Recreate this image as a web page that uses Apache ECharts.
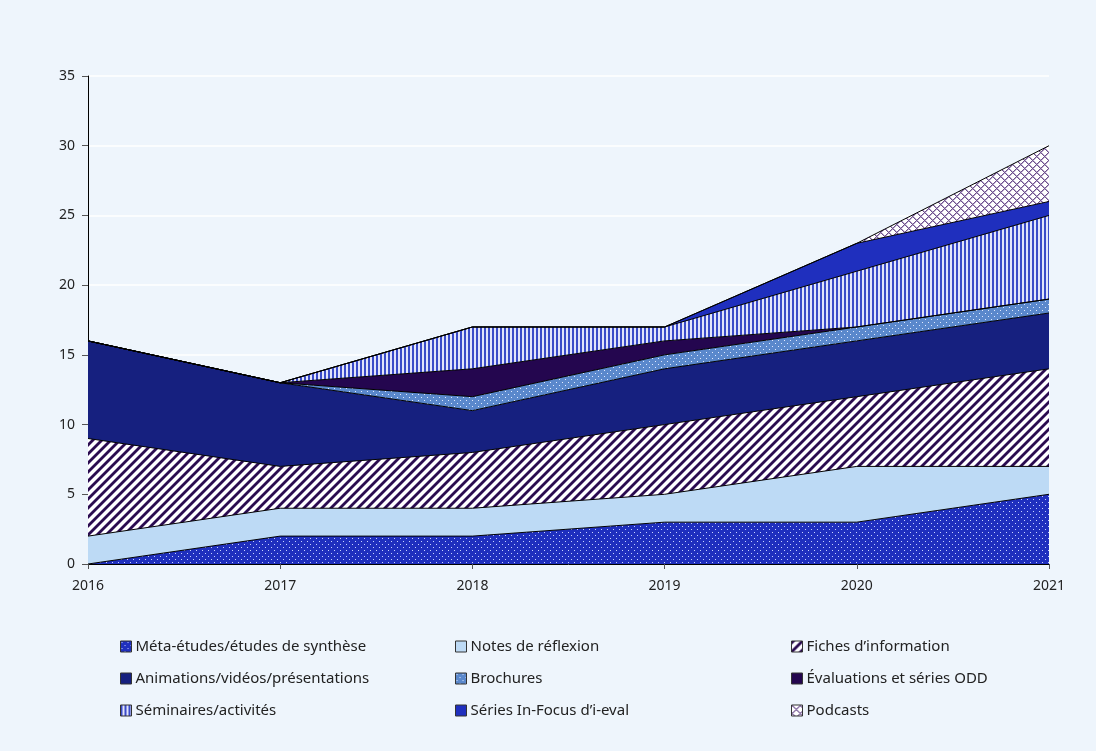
<!DOCTYPE html>
<html>
<head>
<meta charset="utf-8">
<script src="https://cdn.jsdelivr.net/npm/echarts@6/dist/echarts.min.js"></script>
<style>
  html, body { margin: 0; padding: 0; background: #EEF5FC; }
  #chart { width: 1096px; height: 751px; }
</style>
</head>
<body>
<div id="chart"></div>
<script>
// Publication output by product type, 2016–2021 (stacked counts)
const years = ['2016', '2017', '2018', '2019', '2020', '2021'];
const metaEtudes   = [0, 2, 2, 3, 3, 5];
const notes        = [2, 2, 2, 2, 4, 2];
const fiches       = [7, 3, 4, 5, 5, 7];
const animations   = [7, 6, 3, 4, 4, 4];
const brochures    = [0, 0, 1, 1, 1, 1];
const evaluations  = [0, 0, 2, 1, 0, 0];
const seminaires   = [0, 0, 3, 1, 4, 6];
const inFocus      = [0, 0, 0, 0, 2, 1];
const podcasts     = [0, 0, 0, 0, 0, 4];
const seriesNames = [
  'Méta-études/études de synthèse', 'Notes de réflexion', 'Fiches d’information',
  'Animations/vidéos/présentations', 'Brochures', 'Évaluations et séries ODD',
  'Séminaires/activités', 'Séries In-Focus d’i-eval', 'Podcasts'
];
const yTicks = [0, 5, 10, 15, 20, 25, 30, 35];

// Tile builders for patterned fills
function tile(w, h, painter) {
  const c = document.createElement('canvas');
  c.width = w; c.height = h;
  const ctx = c.getContext('2d');
  const img = ctx.createImageData(w, h);
  for (let y = 0; y < h; y++) {
    for (let x = 0; x < w; x++) {
      const col = painter(x, y);
      const i = (y * w + x) * 4;
      img.data[i] = col[0]; img.data[i + 1] = col[1]; img.data[i + 2] = col[2]; img.data[i + 3] = 255;
    }
  }
  ctx.putImageData(img, 0, 0);
  return { image: c, repeat: 'repeat' };
}
const WHITE = [255, 255, 255];
const dots = (bg, dot) => tile(6, 6, (x, y) => ((x === 1 && y === 1) || (x === 4 && y === 4)) ? dot : bg);
const diag = (fg) => tile(9, 9, (x, y) => {
  const m = (x + y) % 9;
  if (m < 3) return fg;
  if (m === 3 || m === 8) return [150, 130, 175];
  return WHITE;
});
const vstripe = (fg) => tile(4, 4, (x) => (x < 2) ? fg : [225, 228, 250]);
const cross = (fg) => tile(8, 8, (x, y) => {
  const a = (x + y) % 8, b = (x - y + 80) % 8;
  if (a === 0 || b === 0) return fg;
  if (a === 1 || b === 1) return [185, 170, 205];
  return WHITE;
});

const fills = [
  dots([31, 47, 190], [200, 210, 255]),
  '#BDDAF5',
  diag([42, 12, 78]),
  '#16207F',
  dots([90, 136, 204], [225, 235, 255]),
  '#24064F',
  vstripe([58, 75, 200]),
  '#1F2FBE',
  cross([110, 80, 140])
];
const dataSets = [metaEtudes, notes, fiches, animations, brochures, evaluations, seminaires, inFocus, podcasts];

const series = seriesNames.map((name, i) => ({
  name: name,
  type: 'line',
  stack: 'total',
  data: dataSets[i],
  symbol: 'none',
  color: fills[i],
  itemStyle: { color: fills[i], borderColor: '#222', borderWidth: 1 },
  lineStyle: { color: '#000', width: 1 },
  areaStyle: { color: fills[i], opacity: 1 },
  z: 2
}));

const legendCols = [[0, 3, 6], [1, 4, 7], [2, 5, 8]];
const legendX = [115, 450, 786];
const legends = legendCols.map((idx, c) => ({
  orient: 'vertical',
  left: legendX[c],
  top: 631,
  itemGap: 11,
  itemWidth: 11,
  itemHeight: 11,
  icon: 'rect',
  data: idx.map(k => seriesNames[k]),
  itemStyle: { borderColor: '#333', borderWidth: 1 },
  textStyle: { fontFamily: 'Noto Sans', fontSize: 15, lineHeight: 21, color: '#222', padding: [0, 0, 0, -1] },
  selectedMode: false
}));

const chart = echarts.init(document.getElementById('chart'), null, { renderer: 'canvas' });
chart.setOption({
  backgroundColor: '#EEF5FC',
  animation: false,
  grid: { left: 88, right: 47, top: 76, bottom: 187, containLabel: false },
  legend: legends,
  xAxis: {
    type: 'category',
    data: years,
    boundaryGap: false,
    axisLine: { lineStyle: { color: '#000', width: 1 } },
    axisTick: { show: true, alignWithLabel: true, length: 5, lineStyle: { color: '#555' } },
    axisLabel: { fontFamily: 'Noto Sans', fontSize: 14, color: '#222', margin: 15 },
    splitLine: { show: false }
  },
  yAxis: {
    type: 'value',
    min: yTicks[0],
    max: yTicks[yTicks.length - 1],
    interval: 5,
    axisLine: { show: true, lineStyle: { color: '#000', width: 1 } },
    axisTick: { show: true, length: 6, lineStyle: { color: '#555' } },
    axisLabel: { fontFamily: 'Noto Sans', fontSize: 14, color: '#222', margin: 13 },
    splitLine: { show: true, lineStyle: { color: '#FFFFFF', width: 1.5 } }
  },
  series: series
});
</script>
</body>
</html>
